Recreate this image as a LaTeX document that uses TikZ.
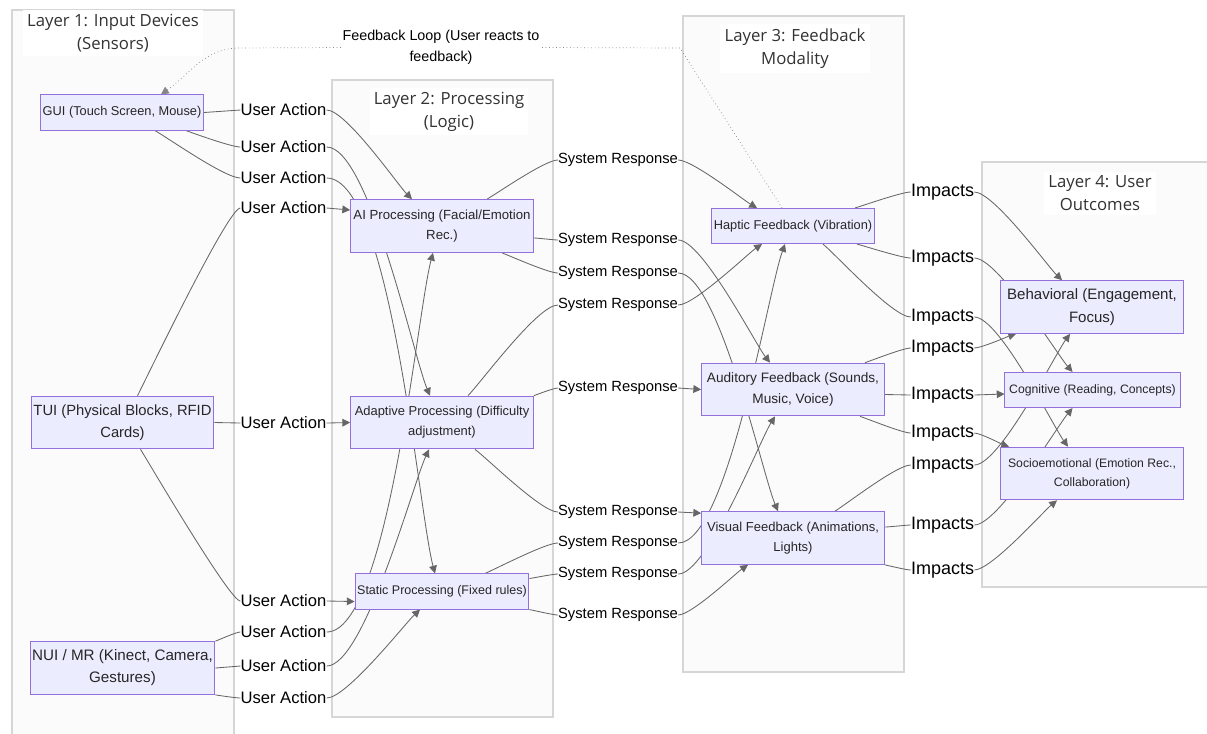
\documentclass[tikz,border=0pt]{standalone}
\usepackage{fontspec}
\setmainfont{Liberation Sans}
\newfontfamily\titlefont{Open Sans}
\usetikzlibrary{arrows.meta,calc}

\definecolor{nodefill}{HTML}{ECECFF}
\definecolor{nodeline}{HTML}{9370DB}
\definecolor{layerfill}{HTML}{FBFBFB}
\definecolor{layerline}{HTML}{D6D6D6}
\definecolor{edgegray}{HTML}{666666}
\definecolor{textgray}{HTML}{333333}

\pgfdeclarelayer{bg}
\pgfdeclarelayer{edges}
\pgfsetlayers{bg,edges,main}

\tikzset{
  layer/.style={draw=layerline, fill=layerfill, line width=0.9pt},
  layertitle/.style={font=\titlefont\fontsize{11.9}{16.4}\selectfont, align=center, text=textgray, fill=white, inner sep=3pt},
  box/.style={draw=nodeline, fill=nodefill, line width=0.7pt, align=center, text=black!85, inner xsep=1.5pt, inner ysep=0pt, minimum height=25pt},
  tall/.style={minimum width=130pt, minimum height=37.5pt},
  ualbl/.style={font=\fontsize{11.8}{14}\selectfont, inner sep=0pt},
  srlbl/.style={font=\fontsize{10.5}{13}\selectfont, inner sep=0pt},
  imlbl/.style={font=\fontsize{12.8}{15}\selectfont, inner sep=0pt},
  link/.style={draw=edgegray, line width=0.6pt, looseness=0.4},
  flow/.style={link, -{Triangle[length=5.5pt,width=5.5pt]}},
  loopline/.style={draw=edgegray!80, line width=0.5pt, dotted},
}

\begin{document}
\begin{tikzpicture}[x=0.025cm,y=-0.025cm]
\useasboundingbox (0,0) rectangle (1207,733);

% the four layers
\begin{pgfonlayer}{bg}
\fill[white] (0,0) rectangle (1207,733);
\draw[layer] (12,10) rectangle (234,745);
\draw[layer] (332,80) rectangle (553,717);
\draw[layer] (683,16) rectangle (904,672);
\draw[layer] (982,162) rectangle (1212,587);
\end{pgfonlayer}

\node[layertitle] (t1) at (113,33) {Layer 1: Input Devices\\(Sensors)};
\node[layertitle] (t2) at (449,111.5) {Layer 2: Processing\\(Logic)};
\node[layertitle] (t3) at (795,48.5) {Layer 3: Feedback\\Modality};
\node[layertitle] (t4) at (1100,193.5) {Layer 4: User\\Outcomes};

% input devices
\node[box, font=\fontsize{9.1}{14}\selectfont] (gui) at (122,112.5) {GUI (Touch Screen, Mouse)};
\node[box, tall, font=\fontsize{10.5}{15.6}\selectfont] (tui) at (122.5,422.5) {TUI (Physical Blocks, RFID\\Cards)};
\node[box, tall, font=\fontsize{10.8}{15.6}\selectfont] (nui) at (122.5,668) {NUI / MR (Kinect, Camera,\\Gestures)};

% processing
\node[box, tall, font=\fontsize{9.4}{14.2}\selectfont] (ai) at (442,226) {AI Processing (Facial/Emotion\\Rec.)};
\node[box, tall, font=\fontsize{9.2}{14.2}\selectfont] (adapt) at (442,422.5) {Adaptive Processing (Difficulty\\adjustment)};
\node[box, font=\fontsize{8.9}{14}\selectfont] (static) at (442,591.5) {Static Processing (Fixed rules)};

% feedback modality
\node[box, font=\fontsize{9.1}{14}\selectfont] (haptic) at (793,226) {Haptic Feedback (Vibration)};
\node[box, tall, font=\fontsize{9.7}{15}\selectfont] (audio) at (793,389.5) {Auditory Feedback (Sounds,\\Music, Voice)};
\node[box, tall, font=\fontsize{9.25}{14.2}\selectfont] (visual) at (793,538) {Visual Feedback (Animations,\\Lights)};

% outcomes
\node[box, tall, font=\fontsize{10.7}{16.4}\selectfont] (behav) at (1092,307) {Behavioral (Engagement,\\Focus)};
\node[box, font=\fontsize{8.7}{14}\selectfont, minimum width=124.5pt] (cogn) at (1092.5,390) {Cognitive (Reading, Concepts)};
\node[box, tall, font=\fontsize{8.7}{13.5}\selectfont] (socio) at (1092,473.5) {Socioemotional (Emotion Rec.,\\Collaboration)};

% edge labels
\foreach \i/\y in {1/110,2/147,3/178,4/208,5/423,6/601,7/632,8/666,9/698}
  \node[ualbl] (ua\i) at (283.5,\y) {User Action};
\foreach \i/\y in {1/160,2/240,3/273,4/305,5/388,6/512,7/543,8/574,9/615}
  \node[srlbl] (sr\i) at (618,\y) {System Response};
\foreach \i/\y in {1/192,2/258,3/317,4/348,5/395,6/433,7/465,8/525,9/570}
  \node[imlbl] (im\i) at (942.5,\y) {Impacts};
\node[font=\fontsize{10.2}{15}\selectfont, align=center, inner sep=1pt] (fb) at (441,47.5) {Feedback Loop (User reacts to\\feedback)};

\begin{pgfonlayer}{edges}
% layer 1 -> layer 2
\draw[link] (gui.east) -- (ua1.west);
\draw[flow] (ua1.east) to[out=0,in=135] ($(ai.north)+(-30,0)$);
\draw[link] ($(gui.south)+(64,0)$) to[out=-20,in=180] (ua2.west);
\draw[flow] (ua2.east) to[out=0,in=113] ($(adapt.north)+(-12,0)$);
\draw[link] ($(gui.south)+(33,0)$) to[out=-30,in=180] (ua3.west);
\draw[flow] (ua3.east) to[out=0,in=105] ($(static.north)+(-7,0)$);
\draw[link, looseness=0.15] ($(tui.north)+(15,0)$) to[out=62,in=180] (ua4.west);
\draw[flow] (ua4.east) -- ($(ai.west)+(0,-16)$);
\draw[link] (tui.east) -- (ua5.west);
\draw[flow] (ua5.east) -- (adapt.west);
\draw[link, looseness=0.15] ($(tui.south)+(18,0)$) to[out=-57,in=180] (ua6.west);
\draw[flow] (ua6.east) -- ($(static.west)+(0,10)$);
\draw[link] (nui.north east) to[out=20,in=180] (ua7.west);
\draw[flow] (ua7.east) to[out=0,in=-105] ($(ai.south)+(-9,0)$);
\draw[link] (nui.east) -- (ua8.west);
\draw[flow] (ua8.east) to[out=0,in=-115] ($(adapt.south)+(-13,0)$);
\draw[link] (nui.south east) to[out=-10,in=180] (ua9.west);
\draw[flow] (ua9.east) to[out=0,in=-137] ($(static.south)+(-22,0)$);

% layer 2 -> layer 3
\draw[link] ($(ai.north)+(45,0)$) to[out=30,in=180] (sr1.west);
\draw[flow] (sr1.east) to[out=0,in=150] ($(haptic.north)+(-36,0)$);
\draw[link] ($(ai.east)+(0,12)$) to[out=0,in=180] (sr2.west);
\draw[flow] (sr2.east) to[out=0,in=128] ($(audio.north)+(-23,0)$);
\draw[link] ($(ai.south)+(60,0)$) to[out=-21,in=180] (sr3.west);
\draw[flow] (sr3.east) to[out=0,in=113] ($(visual.north)+(-15,0)$);
\draw[link] ($(adapt.north)+(26,0)$) to[out=46,in=180] (sr4.west);
\draw[flow] (sr4.east) to[out=0,in=-146] ($(haptic.south)+(-31,0)$);
\draw[link] (adapt.north east) to[out=20,in=180] (sr5.west);
\draw[flow] (sr5.east) -- (audio.west);
\draw[link] ($(adapt.south)+(33,0)$) to[out=-37,in=180] (sr6.west);
\draw[flow] (sr6.east) -- ($(visual.north west)+(0,2)$);
\draw[link] ($(static.north)+(43,0)$) to[out=23,in=180] (sr7.west);
\draw[flow] (sr7.east) to[out=0,in=-110] ($(haptic.south)+(-8,0)$);
\draw[link] ($(static.east)+(0,-13)$) to[out=8,in=180] (sr8.west);
\draw[flow] (sr8.east) to[out=0,in=-122] ($(audio.south)+(-18,0)$);
\draw[link] (static.south east) to[out=-10,in=180] (sr9.west);
\draw[flow] (sr9.east) to[out=0,in=-146] ($(visual.south)+(-45,0)$);

% layer 3 -> layer 4
\draw[link] ($(haptic.north)+(62,0)$) to[out=16,in=180] (im1.west);
\draw[flow] (im1.east) to[out=0,in=136] ($(behav.north)+(-30,0)$);
\draw[link] ($(haptic.south)+(64,0)$) to[out=-15,in=180] (im2.west);
\draw[flow] (im2.east) to[out=0,in=131] ($(cogn.north)+(-20,0)$);
\draw[link] ($(haptic.south)+(30,0)$) to[out=-40,in=180] (im3.west);
\draw[flow] (im3.east) to[out=0,in=126] ($(socio.north)+(-24,0)$);
\draw[link] ($(audio.north)+(72,0)$) to[out=18,in=180] (im4.west);
\draw[flow] (im4.east) to[out=0,in=-163] ($(behav.south west)+(16,0)$);
\draw[link] ($(audio.east)+(0,5)$) -- (im5.west);
\draw[flow] (im5.east) -- ($(cogn.west)+(0,4)$);
\draw[link] ($(audio.south)+(67,0)$) to[out=-18,in=180] (im6.west);
\draw[flow] (im6.east) to[out=0,in=162] ($(socio.north west)+(9,0)$);
\draw[link] ($(visual.north)+(42,0)$) to[out=32,in=180] (im7.west);
\draw[flow] (im7.east) to[out=0,in=-126] ($(behav.south)+(-22,0)$);
\draw[link] ($(visual.east)+(0,-11)$) to[out=0,in=180] (im8.west);
\draw[flow] (im8.east) to[out=0,in=-130] ($(cogn.south)+(-20,0)$);
\draw[link] (visual.south east) to[out=-12,in=180] (im9.west);
\draw[flow] (im9.east) to[out=0,in=-141] ($(socio.south)+(-35,0)$);

% feedback loop back to the GUI
\coordinate (loopR) at (680,48);
\coordinate (loopL) at (240,48);
\draw[loopline] ($(haptic.north)+(-11,0)$) -- (loopR) -- (fb.east);
\draw[loopline, -{Triangle[length=5.5pt,width=5.5pt]}] (fb.west) -- (loopL) to[out=180,in=35] ($(gui.north)+(39,0)$);
\end{pgfonlayer}
\end{tikzpicture}
\end{document}
